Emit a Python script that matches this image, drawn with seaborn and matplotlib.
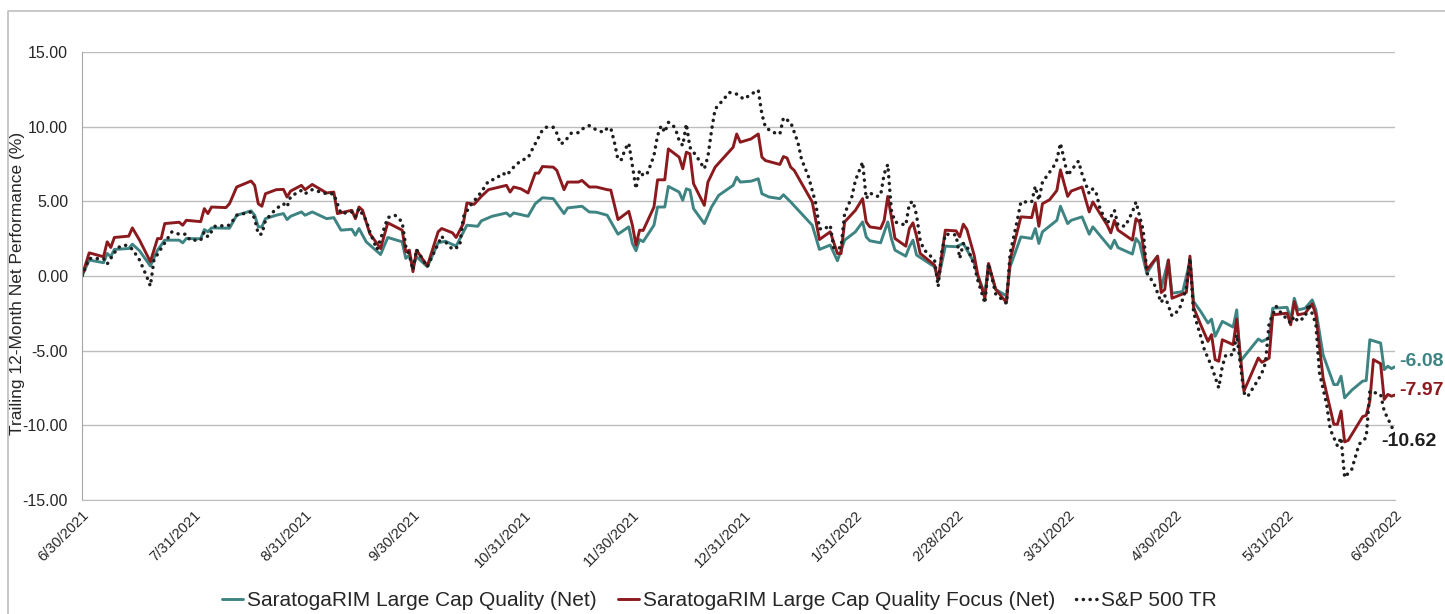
import pandas as pd
import numpy as np
import matplotlib
matplotlib.use("Agg")
import matplotlib.pyplot as plt
from matplotlib.lines import Line2D
import seaborn as sns

# ---- data (days after 6/30/2021, trailing 12-month net performance %) ----
start_date = "2021-06-30"

quality_day = [0, 2, 6, 7, 8, 9, 13, 14, 16, 19, 21, 23, 27, 28, 29, 33, 34, 35, 36, 41,
               43, 47, 48, 49, 50, 51, 54, 56, 57, 58, 61, 62, 64, 68, 70, 72, 75, 76, 77, 79,
               83, 85, 89, 90, 91, 92, 93, 96, 99, 101, 104, 107, 110, 111, 114, 118, 119, 120, 124, 126,
               128, 131, 134, 135, 139, 141, 143, 146, 149, 152, 153, 154, 155, 156, 159, 160, 162, 163, 166, 167,
               168, 169, 170, 173, 175, 177, 181, 182, 183, 186, 188, 189, 191, 194, 195, 197, 203, 205, 208, 210,
               212, 215, 217, 218, 219, 222, 224, 225, 226, 229, 230, 231, 232, 237, 238, 240, 243, 245, 248, 249,
               251, 252, 254, 257, 258, 261, 264, 265, 266, 267, 271, 272, 274, 275, 278, 280, 281, 286, 287, 288,
               292, 293, 294, 296, 299, 300, 302, 303, 306, 308, 309, 311, 313, 314, 315, 317, 320, 321, 322, 327,
               328, 330, 331, 335, 336, 337, 338, 340, 342, 343, 345, 348, 349, 350, 351, 353, 356, 357, 358, 361,
               362, 363, 364, 365]
quality_val = [0.00, 1.07, 0.89, 1.51, 1.29, 1.78, 1.84, 2.13, 1.69, 0.67, 1.73, 2.40, 2.40, 2.22, 2.51, 2.49, 3.11, 2.96, 3.22, 3.20,
               4.07, 4.36, 4.07, 3.29, 3.29, 3.84, 4.07, 4.18, 3.78, 4.00, 4.29, 4.07, 4.29, 3.84, 3.91, 3.07, 3.13, 2.73, 3.18, 2.29,
               1.44, 2.58, 2.29, 1.18, 1.40, 0.62, 1.29, 0.62, 2.22, 2.33, 2.00, 3.40, 3.33, 3.69, 4.00, 4.22, 4.00, 4.22, 4.00, 4.84,
               5.24, 5.18, 4.18, 4.56, 4.67, 4.29, 4.27, 4.07, 2.80, 3.29, 2.18, 1.69, 2.44, 2.30, 3.40, 4.62, 4.62, 6.00, 5.62, 5.07,
               5.84, 5.75, 4.51, 3.51, 4.62, 5.40, 6.07, 6.62, 6.29, 6.35, 6.51, 5.51, 5.29, 5.18, 5.44, 4.96, 3.40, 1.78, 2.07, 1.02,
               2.40, 2.96, 3.62, 2.62, 2.36, 2.22, 3.62, 2.50, 1.73, 1.33, 1.96, 2.40, 1.40, 0.62, -0.27, 2.00, 1.96, 2.18, 0.89, 0.00,
               -1.20, 0.70, -0.90, -1.33, 0.62, 2.62, 2.51, 3.18, 2.18, 2.96, 3.73, 4.67, 3.51, 3.73, 3.96, 2.80, 3.29, 1.84, 2.40, 1.90,
               1.47, 2.51, 2.20, 0.18, 1.33, -0.82, 1.07, -1.16, -1.04, 1.00, -1.70, -2.38, -3.15, -2.89, -4.04, -3.04, -3.42, -2.27, -5.71, -4.22,
               -4.38, -4.16, -2.16, -2.10, -2.93, -1.49, -2.27, -2.16, -1.60, -2.27, -5.27, -7.27, -7.27, -6.71, -8.16, -7.64, -7.04, -7.00, -4.27, -4.49,
               -6.27, -6.04, -6.20, -6.08]

focus_day = [0, 2, 6, 7, 8, 9, 13, 14, 16, 19, 21, 22, 23, 27, 28, 29, 33, 34, 35, 36,
             40, 41, 43, 47, 48, 49, 50, 51, 54, 56, 57, 58, 61, 62, 64, 68, 70, 71, 75, 76,
             77, 78, 80, 83, 85, 89, 90, 91, 92, 93, 96, 99, 100, 103, 104, 106, 107, 109, 111, 113,
             118, 119, 120, 122, 124, 126, 127, 128, 131, 132, 134, 135, 138, 139, 141, 143, 146, 147, 149, 152,
             153, 154, 155, 156, 159, 160, 162, 163, 166, 167, 168, 169, 170, 173, 174, 176, 181, 182, 183, 186,
             188, 189, 190, 194, 195, 196, 197, 198, 203, 205, 208, 210, 211, 212, 215, 217, 218, 219, 222, 223,
             224, 225, 226, 229, 230, 231, 232, 233, 237, 238, 240, 243, 244, 245, 246, 248, 249, 251, 252, 254,
             257, 258, 261, 264, 265, 266, 267, 269, 271, 272, 274, 275, 278, 280, 281, 285, 286, 287, 288, 292,
             293, 294, 296, 299, 300, 301, 302, 303, 306, 307, 308, 309, 311, 313, 314, 315, 316, 317, 320, 321,
             323, 327, 328, 330, 331, 335, 336, 337, 338, 340, 342, 343, 345, 348, 349, 350, 351, 352, 356, 357,
             358, 359, 361, 362, 363, 364, 365]
focus_val = [0.00, 1.55, 1.29, 2.29, 1.91, 2.58, 2.67, 3.22, 2.40, 0.96, 2.51, 2.50, 3.51, 3.60, 3.40, 3.73, 3.64, 4.51, 4.18, 4.62,
             4.58, 4.84, 5.96, 6.36, 6.07, 4.84, 4.67, 5.51, 5.78, 5.80, 5.29, 5.69, 6.07, 5.78, 6.13, 5.56, 5.62, 4.18, 4.40, 3.84,
             4.62, 4.40, 2.84, 1.84, 3.56, 3.07, 1.62, 1.73, 0.29, 1.73, 0.67, 2.96, 3.18, 2.89, 2.58, 3.51, 4.89, 4.80, 5.33, 5.78,
             6.07, 5.62, 5.96, 5.84, 5.56, 6.89, 6.89, 7.33, 7.29, 7.07, 5.78, 6.29, 6.29, 6.40, 5.96, 5.96, 5.78, 5.75, 3.78, 4.33,
             3.40, 2.07, 3.07, 3.05, 4.62, 6.44, 6.44, 8.51, 7.96, 7.18, 8.29, 8.18, 6.18, 4.73, 6.29, 7.29, 8.62, 9.51, 8.96, 9.18,
             9.51, 7.96, 7.73, 7.47, 8.00, 7.90, 7.29, 7.07, 4.96, 2.44, 2.96, 1.51, 1.50, 3.62, 4.40, 5.18, 3.62, 3.29, 3.18, 3.73,
             5.33, 3.96, 2.51, 2.00, 3.18, 3.56, 2.67, 1.51, 0.73, -0.27, 3.07, 3.02, 2.62, 3.47, 3.11, 1.40, 0.10, -1.49, 0.84, -0.89,
             -1.78, 1.07, 3.96, 3.91, 4.89, 3.33, 4.84, 5.11, 5.73, 7.11, 5.33, 5.69, 5.96, 4.29, 4.96, 3.40, 2.89, 3.73, 3.07, 2.40,
             3.84, 3.60, 0.40, 1.33, -1.11, -0.90, 1.07, -1.49, -1.20, -1.10, 1.33, -2.10, -3.27, -4.38, -3.93, -5.60, -5.71, -4.27, -4.60, -2.89,
             -7.71, -5.49, -5.78, -5.50, -2.60, -2.49, -3.27, -1.71, -2.60, -2.50, -1.87, -2.60, -6.82, -9.93, -9.93, -9.04, -11.11, -11.00, -9.42, -9.33,
             -8.38, -5.60, -5.87, -8.27, -7.93, -8.05, -7.97]

sp_day = [0, 2, 6, 7, 8, 10, 12, 14, 16, 18, 19, 20, 22, 25, 27, 29, 30, 33, 34, 35,
          37, 41, 43, 47, 48, 49, 50, 51, 54, 56, 57, 58, 61, 62, 64, 68, 70, 72, 75, 76,
          77, 79, 80, 82, 85, 87, 89, 90, 91, 92, 93, 96, 100, 101, 103, 105, 106, 108, 111, 113,
          115, 117, 118, 120, 122, 124, 125, 128, 129, 131, 132, 133, 134, 136, 138, 139, 141, 143, 145, 146,
          147, 148, 149, 150, 151, 152, 153, 154, 155, 156, 157, 158, 159, 160, 161, 162, 163, 164, 165, 166,
          167, 168, 169, 171, 173, 174, 175, 176, 178, 180, 182, 184, 186, 188, 189, 190, 192, 194, 195, 197,
          199, 200, 202, 204, 205, 206, 208, 209, 211, 212, 214, 215, 217, 218, 219, 221, 222, 223, 224, 225,
          226, 229, 230, 231, 232, 233, 234, 237, 238, 239, 240, 243, 244, 245, 246, 248, 249, 251, 252, 254,
          257, 258, 260, 261, 264, 265, 266, 267, 270, 271, 272, 274, 275, 277, 278, 280, 281, 282, 283, 285,
          287, 288, 290, 292, 293, 295, 296, 298, 300, 301, 303, 305, 307, 308, 309, 311, 312, 314, 316, 317,
          318, 320, 321, 323, 324, 327, 328, 329, 330, 332, 333, 336, 337, 338, 340, 341, 343, 344, 346, 347,
          349, 350, 351, 353, 355, 357, 358, 361, 362, 364, 365]
sp_val = [0.00, 1.18, 1.16, 0.80, 1.18, 1.91, 2.07, 1.80, 1.07, -0.04, -0.67, 1.07, 1.84, 2.96, 2.80, 2.80, 2.40, 2.40, 2.96, 2.62,
          3.33, 3.40, 4.07, 4.29, 3.84, 2.80, 2.80, 3.73, 4.51, 4.84, 4.62, 5.33, 5.73, 5.51, 5.78, 5.51, 5.50, 4.18, 4.29, 3.96,
          4.51, 3.73, 2.96, 1.78, 3.91, 4.07, 3.62, 2.00, 1.40, 0.40, 1.78, 0.62, 2.67, 2.29, 1.78, 2.00, 3.96, 4.73, 5.62, 6.36,
          6.51, 6.89, 6.73, 7.29, 7.73, 7.91, 8.40, 9.78, 9.96, 9.96, 9.56, 8.84, 8.95, 9.56, 9.60, 9.84, 10.07, 9.78, 9.62, 9.90,
          9.90, 8.96, 7.78, 7.80, 8.51, 8.89, 7.40, 5.84, 7.07, 6.73, 6.80, 7.40, 8.07, 9.40, 10.07, 9.62, 10.29, 10.18, 9.84, 9.07,
          8.73, 10.18, 8.62, 7.96, 7.18, 8.00, 9.73, 11.18, 11.73, 12.29, 12.18, 11.84, 12.18, 12.44, 10.84, 9.96, 9.62, 9.51, 10.60, 10.30,
          8.96, 7.84, 6.62, 4.84, 3.18, 3.10, 3.40, 1.84, 1.90, 4.18, 5.29, 6.40, 7.62, 5.18, 5.56, 5.33, 5.40, 6.84, 7.47, 4.40,
          3.62, 3.40, 4.84, 5.00, 4.07, 2.40, 1.78, 1.07, -0.71, 1.60, 2.80, 2.75, 1.18, 2.18, 2.00, 0.73, -0.27, -1.82, 0.84, -1.20,
          -1.84, 1.51, 3.73, 4.96, 4.96, 6.00, 5.07, 6.29, 7.29, 7.78, 8.89, 6.73, 7.07, 7.69, 6.84, 5.51, 5.84, 5.50, 4.51, 3.51,
          4.40, 3.40, 3.33, 4.29, 4.96, 3.07, 0.20, -0.50, -1.78, -1.30, -2.67, -2.27, -0.80, 1.20, -2.44, -4.04, -4.93, -6.04, -7.49, -6.04,
          -5.27, -5.27, -3.93, -7.82, -8.09, -6.93, -6.49, -5.82, -3.15, -2.04, -2.38, -3.16, -2.70, -3.04, -2.76, -1.87, -3.20, -6.49, -8.60, -10.27,
          -11.38, -10.82, -13.49, -12.93, -11.27, -10.82, -7.71, -7.93, -9.04, -10.04, -10.62]

series_names = ["SaratogaRIM Large Cap Quality (Net)",
                "SaratogaRIM Large Cap Quality Focus (Net)",
                "S&P 500 TR"]
series_colors = ["#3E8482", "#8B1A1E", "#1E1E1E"]
end_labels = ["-6.08", "-7.97", "-10.62"]

tick_dates = ["2021-06-30", "2021-07-31", "2021-08-31", "2021-09-30", "2021-10-31", "2021-11-30",
              "2021-12-31", "2022-01-31", "2022-02-28", "2022-03-31", "2022-04-30", "2022-05-31",
              "2022-06-30"]


def to_frame(days, vals, name):
    d = pd.Timestamp(start_date) + pd.to_timedelta(days, unit="D")
    return pd.DataFrame({"date": d, "value": vals, "series": name})


frames = [to_frame(quality_day, quality_val, series_names[0]),
          to_frame(focus_day, focus_val, series_names[1]),
          to_frame(sp_day, sp_val, series_names[2])]

sns.set_style("white")
plt.rcParams["font.family"] = ["Liberation Sans", "DejaVu Sans"]

fig = plt.figure(figsize=(14.45, 6.14), dpi=100)
ax = fig.add_axes([82 / 1445, 1 - 500 / 614, (1395 - 82) / 1445, 448 / 614])

dots = (0, (0.05, 1.9))

# solid lines first, dotted on top
sns.lineplot(data=frames[0], x="date", y="value", ax=ax, color=series_colors[0],
             linewidth=2.1, legend=False)
sns.lineplot(data=frames[1], x="date", y="value", ax=ax, color=series_colors[1],
             linewidth=2.1, legend=False)
sns.lineplot(data=frames[2], x="date", y="value", ax=ax, color=series_colors[2],
             linewidth=2.5, linestyle=dots, dash_capstyle="round", legend=False)

# end value labels
offsets = [(3, 4), (3, 3), (-10, -5)]
for fr, lab, col, off in zip(frames, end_labels, series_colors, offsets):
    last = fr.iloc[-1]
    ax.annotate(lab, xy=(last["date"], last["value"]), xytext=off,
                textcoords="offset points", ha="left", va="center",
                fontsize=14, fontweight="bold", color=col, annotation_clip=False)

ax.set_ylim(-15, 15)
ax.set_yticks(np.arange(-15, 16, 5))
ax.yaxis.set_major_formatter(plt.FuncFormatter(lambda v, p: f"{v:.2f}"))
ax.set_xlim(pd.Timestamp(tick_dates[0]), pd.Timestamp(tick_dates[-1]))
ticks = [pd.Timestamp(t) for t in tick_dates]
ax.set_xticks(ticks)
ax.set_xticklabels([f"{t.month}/{t.day}/{t.year}" for t in ticks], rotation=45,
                   ha="right", rotation_mode="anchor", fontsize=10.5)
ax.tick_params(axis="y", labelsize=11.5, length=5, color="#A6A6A6", pad=5)
ax.tick_params(axis="x", length=0, pad=6)

ax.grid(axis="y", color="#BDBDBD", linewidth=1.0)
ax.set_axisbelow(True)
for s in ["top", "right"]:
    ax.spines[s].set_visible(False)
ax.spines["left"].set_color("#A6A6A6")
ax.spines["bottom"].set_color("#BDBDBD")

ax.set_xlabel("")
ax.set_ylabel("Trailing 12-Month Net Performance (%)", fontsize=12.5)
ax.yaxis.set_label_coords((25 - 82) / 1313, (500 - 283) / 448)

handles = [Line2D([], [], color=series_colors[0], linewidth=2.1),
           Line2D([], [], color=series_colors[1], linewidth=2.1),
           Line2D([], [], color=series_colors[2], linewidth=2.5, linestyle=dots,
                  dash_capstyle="round")]
fig.legend(handles, series_names, loc="center", bbox_to_anchor=(0.498, 0.022), ncol=3,
           frameon=False, fontsize=15, handlelength=1.0, handletextpad=0.2,
           columnspacing=1.0)

# chart-area frame (only left and top edges fall inside the picture)
fig.add_artist(Line2D([8 / 1445, 8 / 1445, 1.0], [0.0, 1 - 10.5 / 614, 1 - 10.5 / 614],
                      transform=fig.transFigure, color="#BFBFBF", linewidth=1.2))

fig.savefig("out.png", dpi=100)
